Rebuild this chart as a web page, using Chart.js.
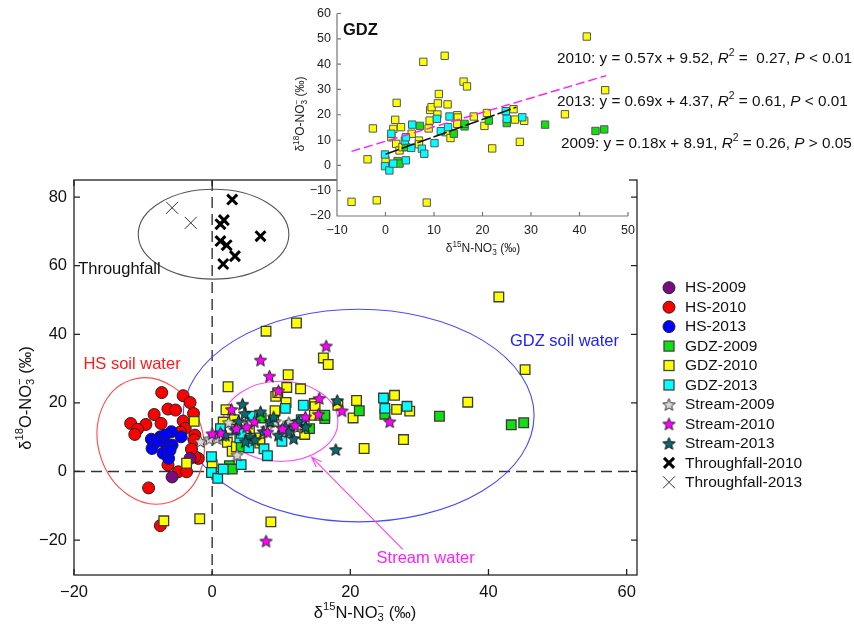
<!DOCTYPE html>
<html>
<head>
<meta charset="utf-8">
<script src="https://cdn.jsdelivr.net/npm/chart.js@4.4.0/dist/chart.umd.min.js"></script>
<style>
  html, body { margin: 0; padding: 0; background: #fff; }
  #wrap { position: relative; width: 854px; height: 633px; }
  #wrap canvas { position: absolute; left: 0; top: 0; }
</style>
</head>
<body>
<div id="wrap">
  <canvas id="main" width="854" height="633"></canvas>
  <canvas id="inset" width="854" height="633"></canvas>
</div>
<script>
// ---- data (δ15N, δ18O) ----
const hs2009 = [[-5.8, -1.6], [-3.2, 3.8]];
const hs2010 = [[-7.3, 23.0], [-4.2, 22.1], [-3.2, 20.1], [-6.4, 18.2], [-5.3, 17.9], [-2.7, 16.9],
  [-8.4, 16.6], [-7.4, 14.0], [-9.6, 13.7], [-11.8, 14.0], [-10.8, 12.3], [-11.2, 10.8], [-4.2, 14.7],
  [-3.9, 12.6], [-2.5, 10.6], [-2.6, 9.2], [-2.0, 3.8], [-6.4, 1.9], [-4.9, -0.1], [-3.7, -0.1],
  [-9.2, -4.8], [-7.5, -15.8], [-2.5, 4.3], [-4.6, 11.5], [-3.0, 6.5]];
const hs2013 = [[-5.9, 11.6], [-4.5, 10.1], [-8.8, 9.4], [-7.5, 10.1], [-6.8, 10.6], [-8.7, 6.7],
  [-6.6, 7.7], [-5.8, 7.7], [-7.1, 5.3], [-6.3, 3.8], [-6.1, 6.2], [-8.0, 8.7]];
const gdz2009 = [[7.1, 15.6], [2.5, 1.7], [2.9, 0.7], [4.2, 7.2], [14.1, 12.5], [16.3, 15.4], [16.3, 16.4],
  [21.3, 17.7], [25.0, 16.7], [32.9, 16.1], [43.3, 13.6], [45.1, 14.2]];
const gdz2010 = [[-7.0, -14.4], [-1.8, -13.8], [8.5, -14.7], [-3.7, 2.4], [-2.6, 14.6], [0.0, 2.0],
  [2.3, 24.7], [2.0, 18.0], [1.6, 14.4], [3.2, 15.1], [1.2, 11.1], [2.2, 8.5], [2.9, 5.9], [3.5, 7.2],
  [7.8, 40.9], [12.2, 43.3], [16.1, 33.1], [16.8, 31.2], [11.0, 28.2], [9.2, 21.9], [9.5, 23.0],
  [10.8, 24.5], [12.8, 24.1], [10.7, 20.1], [9.1, 17.7], [8.9, 14.6], [14.8, 19.8], [14.9, 18.9],
  [14.8, 16.4], [18.2, 19.3], [20.9, 20.7], [20.4, 15.6], [22.0, 6.7], [26.4, 22.2], [26.7, 18.1],
  [28.6, 17.6], [27.7, 9.3], [37.0, 20.2], [41.5, 50.9], [45.3, 29.7], [5.4, 12.5], [6.9, 9.8],
  [6.9, 8.3], [12.4, 13.1], [13.4, 10.8]];
const gdz2013 = [[-0.1, 4.3], [-0.1, -0.3], [0.8, -2.0], [1.6, 0.7], [1.2, 12.5], [4.0, 9.8], [4.2, 11.1],
  [4.2, 2.0], [5.3, 6.9], [5.5, 16.1], [7.5, 6.6], [8.0, 4.6], [10.1, 8.8], [10.6, 18.4], [11.4, 13.5],
  [12.9, 15.1], [13.2, 19.3], [24.8, 21.4], [25.0, 18.4], [28.2, 19.0]];
const stream2009 = [[0.7, 9.6], [2.4, 14.3], [5.3, 14.0], [9.1, 14.5], [11.1, 14.2], [12.3, 12.9],
  [7.9, 12.6], [3.6, 4.8], [-1.7, 8.7], [-0.4, 9.5], [1.5, 10.5]];
const stream2010 = [[16.5, 36.6], [7.0, 32.5], [8.3, 27.8], [9.6, 23.5], [2.8, 18.1], [6.1, 14.5],
  [15.5, 21.3], [15.4, 16.7], [13.5, 15.9], [18.8, 17.7], [1.2, 11.3], [0.0, 11.0], [25.7, 14.5],
  [7.8, -20.3], [3.5, 12.5], [5.0, 13.0], [8.0, 11.5], [10.2, 12.5], [12.0, 13.5]];
const stream2013 = [[18.1, 20.7], [17.9, 6.4], [4.4, 19.6], [4.7, 16.9], [7.0, 17.4], [8.4, 14.6],
  [10.6, 13.0], [11.8, 9.6], [13.5, 13.0], [5.5, 10.1], [3.3, 12.1], [1.9, 10.6], [7.4, 11.6],
  [9.6, 10.6], [6.2, 9.2], [3.8, 14.6], [8.9, 15.9], [12.5, 14.6], [4.8, 8.7], [11.1, 11.6]];
const throughfall2010 = [[2.9, 79.3], [1.7, 73.3], [1.2, 72.1], [1.2, 67.2], [2.1, 66.0], [3.3, 62.8],
  [1.6, 60.5], [7.0, 68.6]];
const throughfall2013 = [[-5.8, 76.9], [-3.1, 72.5]];

const mainXTicks = [-20, 0, 20, 40, 60];
const mainYTicks = [-20, 0, 20, 40, 60, 80];
const insetXTicks = [-10, 0, 10, 20, 30, 40, 50];
const insetYTicks = [-20, -10, 0, 10, 20, 30, 40, 50, 60];

// GDZ regressions shown in the inset (2010, 2013)
const fitSlope = [0.57, 0.69];
const fitIntercept = [9.52, 4.37];
const fitFrom = [-7, 0];
const fitTo = [45.5, 27];

const FONT = '"Liberation Sans", Arial, sans-serif';
const pts = a => a.map(p => ({ x: p[0], y: p[1] }));
const fmt = v => (v < 0 ? '\u2212' + Math.abs(v) : String(v));

function starImage(fill, stroke, size) {
  const c = document.createElement('canvas');
  c.width = c.height = size;
  const g = c.getContext('2d');
  const cx = size / 2, cy = size / 2 + 0.6, R = size / 2 - 1, r = R * 0.45;
  g.beginPath();
  for (let i = 0; i < 10; i++) {
    const a = -Math.PI / 2 + i * Math.PI / 5, rr = i % 2 ? r : R;
    g.lineTo(cx + rr * Math.cos(a), cy + rr * Math.sin(a));
  }
  g.closePath();
  g.fillStyle = fill; g.fill();
  g.lineWidth = 1; g.strokeStyle = stroke; g.stroke();
  return c;
}
const starGrey = starImage('#d6d6d6', '#333', 15);
const starMag = starImage('#ff00ff', '#222', 15);
const starTeal = starImage('#0c6a6e', '#111', 15);

// rich text: parts = [[text, style]], style '', 'i', 'b', 'sup', 'sub', 'sup0' (stacked on prev sub)
function richText(ctx, parts, x, y, size, align, color) {
  const fontOf = s => (s === 'i' ? 'italic ' : s === 'b' ? 'bold ' : '') +
    ((s === 'sup' || s === 'sub' || s === 'sup0') ? size * 0.68 : size) + 'px ' + FONT;
  let w = 0, prevW = 0;
  const widths = parts.map(([t, s]) => {
    ctx.font = fontOf(s);
    const m = ctx.measureText(t).width;
    if (s === 'sup0') { const add = Math.max(0, m - prevW); w += add; return add; }
    w += m; prevW = m; return m;
  });
  let cx = align === 'center' ? x - w / 2 : align === 'right' ? x - w : x;
  ctx.fillStyle = color;
  ctx.textAlign = 'left';
  ctx.textBaseline = 'middle';
  let lastX = cx;
  parts.forEach(([t, s], i) => {
    ctx.font = fontOf(s);
    let dy = 0;
    if (s === 'sup' || s === 'sup0') dy = -size * 0.36;
    if (s === 'sub') dy = size * 0.3;
    const px = s === 'sup0' ? lastX : cx;
    ctx.fillText(t, px, y + dy);
    if (s !== 'sup0') lastX = cx;
    cx += widths[i];
  });
}

// ---- main chart ----
const ellipses = [
  { cx: 0.2, cy: 69.2, rx: 10.9, ry: 13.1, rot: 0, color: '#555555' },
  { cx: -8.9, cy: 8.9, rx: 7.6, ry: 18.7, rot: -0.3, color: '#ff4a4a' },
  { cx: 21.2, cy: 16.3, rx: 25.4, ry: 31.0, rot: 0, color: '#4a4aff' },
  { cx: 9.9, cy: 14.6, rx: 8.3, ry: 11.7, rot: 0, color: '#ff4aff' }
];
const notes = [
  { text: 'Throughfall', x: -19.4, y: 59.0, align: 'left', color: '#111' },
  { text: 'HS soil water', x: -11.6, y: 31.2, align: 'center', color: '#ff1a1a' },
  { text: 'GDZ soil water', x: 51.0, y: 37.8, align: 'center', color: '#2020ff' },
  { text: 'Stream water', x: 30.9, y: -25.5, align: 'center', color: '#ff20ff' }
];
const arrow = { x1: 27.6, y1: -22.7, x2: 14.4, y2: 4.2, color: '#ff40ff' };

const legendItems = [
  { label: 'HS-2009', kind: 'circle', fill: '#7a0a80' },
  { label: 'HS-2010', kind: 'circle', fill: '#ff0000' },
  { label: 'HS-2013', kind: 'circle', fill: '#0000ff' },
  { label: 'GDZ-2009', kind: 'rect', fill: '#10e010' },
  { label: 'GDZ-2010', kind: 'rect', fill: '#ffff00' },
  { label: 'GDZ-2013', kind: 'rect', fill: '#00ffff' },
  { label: 'Stream-2009', kind: 'img', img: starGrey },
  { label: 'Stream-2010', kind: 'img', img: starMag },
  { label: 'Stream-2013', kind: 'img', img: starTeal },
  { label: 'Throughfall-2010', kind: 'xbold' },
  { label: 'Throughfall-2013', kind: 'xthin' }
];

const mainDeco = {
  id: 'mainDeco',
  beforeDatasetsDraw(chart) {
    const { ctx, chartArea: a, scales: { x, y } } = chart;
    ctx.save();
    ctx.strokeStyle = '#333';
    ctx.lineWidth = 1.4;
    ctx.setLineDash([11, 6]);
    const x0 = x.getPixelForValue(0), y0 = y.getPixelForValue(0);
    ctx.beginPath(); ctx.moveTo(x0, a.top); ctx.lineTo(x0, a.bottom); ctx.stroke();
    ctx.beginPath(); ctx.moveTo(a.left, y0); ctx.lineTo(a.right, y0); ctx.stroke();
    ctx.setLineDash([]);
    const ux = Math.abs(x.getPixelForValue(1) - x0), uy = Math.abs(y.getPixelForValue(1) - y0);
    ellipses.forEach(e => {
      ctx.beginPath();
      ctx.ellipse(x.getPixelForValue(e.cx), y.getPixelForValue(e.cy), e.rx * ux, e.ry * uy, e.rot, 0, Math.PI * 2);
      ctx.strokeStyle = e.color;
      ctx.lineWidth = 1.1;
      ctx.stroke();
    });
    ctx.restore();
  },
  afterDraw(chart) {
    const { ctx, chartArea: a, scales: { x, y } } = chart;
    ctx.save();
    // frame + inward ticks
    ctx.strokeStyle = '#222';
    ctx.lineWidth = 1.3;
    ctx.strokeRect(a.left, a.top, a.right - a.left, a.bottom - a.top);
    ctx.beginPath();
    mainXTicks.forEach(v => {
      const p = x.getPixelForValue(v);
      ctx.moveTo(p, a.bottom); ctx.lineTo(p, a.bottom - 6);
      ctx.moveTo(p, a.top); ctx.lineTo(p, a.top + 6);
    });
    mainYTicks.forEach(v => {
      const p = y.getPixelForValue(v);
      ctx.moveTo(a.left, p); ctx.lineTo(a.left + 6, p);
      ctx.moveTo(a.right, p); ctx.lineTo(a.right - 6, p);
    });
    ctx.stroke();
    // notes
    notes.forEach(n => {
      ctx.font = '16.5px ' + FONT;
      ctx.fillStyle = n.color;
      ctx.textAlign = n.align;
      ctx.textBaseline = 'middle';
      ctx.fillText(n.text, x.getPixelForValue(n.x), y.getPixelForValue(n.y));
    });
    // arrow
    const ax1 = x.getPixelForValue(arrow.x1), ay1 = y.getPixelForValue(arrow.y1);
    const ax2 = x.getPixelForValue(arrow.x2), ay2 = y.getPixelForValue(arrow.y2);
    const ang = Math.atan2(ay2 - ay1, ax2 - ax1);
    ctx.strokeStyle = arrow.color;
    ctx.lineWidth = 1.1;
    ctx.beginPath();
    ctx.moveTo(ax1, ay1); ctx.lineTo(ax2, ay2);
    ctx.moveTo(ax2 - 11 * Math.cos(ang - 0.35), ay2 - 11 * Math.sin(ang - 0.35));
    ctx.lineTo(ax2, ay2);
    ctx.lineTo(ax2 - 11 * Math.cos(ang + 0.35), ay2 - 11 * Math.sin(ang + 0.35));
    ctx.stroke();
    // axis titles
    const tx = [['δ', ''], ['15', 'sup'], ['N-NO', ''], ['3', 'sub'], ['\u2212', 'sup0'], [' (‰)', '']];
    richText(ctx, tx, 365, 613, 16.5, 'center', '#111');
    ctx.save();
    ctx.translate(26, 398);
    ctx.rotate(-Math.PI / 2);
    const ty = [['δ', ''], ['18', 'sup'], ['O-NO', ''], ['3', 'sub'], ['\u2212', 'sup0'], [' (‰)', '']];
    richText(ctx, ty, 0, 0, 16.5, 'center', '#111');
    ctx.restore();
    // legend
    legendItems.forEach((it, i) => {
      const ly = 287.7 + i * 19.46, lx = 669;
      ctx.lineWidth = 1;
      ctx.strokeStyle = '#222';
      if (it.kind === 'circle') {
        ctx.beginPath(); ctx.arc(lx, ly, 6, 0, Math.PI * 2);
        ctx.fillStyle = it.fill; ctx.fill(); ctx.stroke();
      } else if (it.kind === 'rect') {
        ctx.fillStyle = it.fill;
        ctx.fillRect(lx - 5, ly - 5, 10, 10);
        ctx.strokeStyle = '#444'; ctx.lineWidth = 1.3;
        ctx.strokeRect(lx - 5, ly - 5, 10, 10);
      } else if (it.kind === 'img') {
        ctx.drawImage(it.img, lx - it.img.width / 2, ly - it.img.height / 2);
      } else {
        const bold = it.kind === 'xbold';
        const s = bold ? 5 : 6;
        ctx.strokeStyle = bold ? '#000' : '#333';
        ctx.lineWidth = bold ? 3 : 1;
        ctx.beginPath();
        ctx.moveTo(lx - s, ly - s); ctx.lineTo(lx + s, ly + s);
        ctx.moveTo(lx + s, ly - s); ctx.lineTo(lx - s, ly + s);
        ctx.stroke();
      }
      ctx.font = '15.5px ' + FONT;
      ctx.fillStyle = '#111';
      ctx.textAlign = 'left';
      ctx.textBaseline = 'middle';
      ctx.fillText(it.label, 685, ly + 0.5);
    });
    ctx.restore();
  }
};

const circ = (label, data, color) => ({
  label, data: pts(data), order: 3, pointStyle: 'circle', pointRadius: 6,
  backgroundColor: color, borderColor: '#222', borderWidth: 1
});
const sq = (label, data, color, r, order) => ({
  label, data: pts(data), order, pointStyle: 'rect', pointRadius: r,
  backgroundColor: color, borderColor: '#3a3a3a', borderWidth: 1.3
});
const star = (label, data, img) => ({
  label, data: pts(data), order: 1, pointStyle: img, pointRadius: 6
});

new Chart(document.getElementById('main'), {
  type: 'scatter',
  data: {
    datasets: [
      { label: 'Throughfall-2010', data: pts(throughfall2010), order: 0, pointStyle: 'crossRot',
        pointRadius: 7, borderColor: '#000', borderWidth: 3 },
      { label: 'Throughfall-2013', data: pts(throughfall2013), order: 0, pointStyle: 'crossRot',
        pointRadius: 8.5, borderColor: '#333', borderWidth: 1 },
      star('Stream-2010', stream2010, starMag),
      star('Stream-2013', stream2013, starTeal),
      star('Stream-2009', stream2009, starGrey),
      sq('GDZ-2013', gdz2013, '#00ffff', 6.8, 2),
      sq('GDZ-2009', gdz2009, '#10e010', 6.8, 2),
      sq('GDZ-2010', gdz2010, '#ffff00', 6.8, 2),
      circ('HS-2009', hs2009, '#7a0a80'),
      circ('HS-2013', hs2013, '#0000ff'),
      circ('HS-2010', hs2010, '#ff0000')
    ]
  },
  options: {
    responsive: false,
    animation: false,
    devicePixelRatio: 1,
    layout: { padding: { left: 0, top: 180, right: 217, bottom: 0 } },
    plugins: { legend: { display: false }, tooltip: { enabled: false } },
    scales: {
      x: {
        type: 'linear', min: -20, max: 61.5,
        afterBuildTicks: s => { s.ticks = mainXTicks.map(v => ({ value: v })); },
        afterFit: s => { s.height = 58; },
        grid: { display: false, drawTicks: false },
        border: { display: false },
        ticks: { padding: 8, color: '#111', font: { family: FONT, size: 16.5 }, callback: fmt, maxRotation: 0 }
      },
      y: {
        type: 'linear', min: -30.2, max: 85,
        afterBuildTicks: s => { s.ticks = mainYTicks.map(v => ({ value: v })); },
        afterFit: s => { s.width = 74; },
        grid: { display: false, drawTicks: false },
        border: { display: false },
        ticks: { padding: 7, color: '#111', font: { family: FONT, size: 16.5 }, callback: fmt }
      }
    }
  },
  plugins: [mainDeco]
});

// ---- inset chart ----
const equations = [
  { y: 59, parts: [['2010: y = 0.57x + 9.52, ', ''], ['R', 'i'], ['2', 'sup'], [' =  0.27, ', ''], ['P', 'i'], [' < 0.01', '']] },
  { y: 101.5, parts: [['2013: y = 0.69x + 4.37, ', ''], ['R', 'i'], ['2', 'sup'], [' = 0.61, ', ''], ['P', 'i'], [' < 0.01', '']] },
  { y: 143.5, parts: [['2009: y = 0.18x + 8.91, ', ''], ['R', 'i'], ['2', 'sup'], [' = 0.26, ', ''], ['P', 'i'], [' > 0.05', '']] }
];
const eqX = [557, 557, 561];

const insetDeco = {
  id: 'insetDeco',
  beforeDatasetsDraw(chart) {
    const { ctx, chartArea: a } = chart;
    ctx.save();
    ctx.fillStyle = '#fff';
    ctx.fillRect(a.left, a.top, a.right - a.left + 1, a.bottom - a.top);
    ctx.restore();
  },
  afterDraw(chart) {
    const { ctx, chartArea: a, scales: { x, y } } = chart;
    ctx.save();
    ctx.strokeStyle = '#777';
    ctx.lineWidth = 1.2;
    ctx.beginPath();
    ctx.moveTo(a.left, a.top); ctx.lineTo(a.left, a.bottom); ctx.lineTo(a.right, a.bottom);
    insetXTicks.forEach(v => { const p = x.getPixelForValue(v); ctx.moveTo(p, a.bottom); ctx.lineTo(p, a.bottom - 4); });
    insetYTicks.forEach(v => { const p = y.getPixelForValue(v); ctx.moveTo(a.left, p); ctx.lineTo(a.left + 4, p); });
    ctx.stroke();
    ctx.font = 'bold 16.5px ' + FONT;
    ctx.fillStyle = '#111';
    ctx.textAlign = 'left';
    ctx.textBaseline = 'middle';
    ctx.fillText('GDZ', 343, 30);
    equations.forEach((e, i) => richText(ctx, e.parts, eqX[i], e.y, 15.3, 'left', '#111'));
    richText(ctx, [['δ', ''], ['15', 'sup'], ['N-NO', ''], ['3', 'sub'], ['\u2212', 'sup0'], [' (‰)', '']],
      483, 249, 12, 'center', '#222');
    ctx.translate(301, 114);
    ctx.rotate(-Math.PI / 2);
    richText(ctx, [['δ', ''], ['18', 'sup'], ['O-NO', ''], ['3', 'sub'], ['\u2212', 'sup0'], [' (‰)', '']],
      0, 0, 12, 'center', '#222');
    ctx.restore();
  }
};

const fitLine = (i, color, dash) => ({
  type: 'line', order: 0,
  data: [{ x: fitFrom[i], y: fitSlope[i] * fitFrom[i] + fitIntercept[i] },
         { x: fitTo[i], y: fitSlope[i] * fitTo[i] + fitIntercept[i] }],
  borderColor: color, borderWidth: 1.5, borderDash: dash, pointRadius: 0, fill: false
});

const insetSq = (label, data, color) =>
  Object.assign(sq(label, data, color, 5.2, 1), { borderWidth: 1, borderColor: '#555' });

new Chart(document.getElementById('inset'), {
  type: 'scatter',
  data: {
    datasets: [
      fitLine(0, '#ff20ff', [9, 4]),
      fitLine(1, '#111', [14, 3]),
      insetSq('GDZ-2013', gdz2013, '#00ffff'),
      insetSq('GDZ-2009', gdz2009, '#10e010'),
      insetSq('GDZ-2010', gdz2010, '#ffff00')
    ]
  },
  options: {
    responsive: false,
    animation: false,
    devicePixelRatio: 1,
    layout: { padding: { left: 297, top: 12.6, right: 226, bottom: 377 } },
    plugins: { legend: { display: false }, tooltip: { enabled: false } },
    scales: {
      x: {
        type: 'linear', min: -10, max: 50,
        afterBuildTicks: s => { s.ticks = insetXTicks.map(v => ({ value: v })); },
        afterFit: s => { s.height = 40; },
        grid: { display: false, drawTicks: false },
        border: { display: false },
        ticks: { padding: 7, color: '#222', font: { family: FONT, size: 12.5 }, callback: fmt, maxRotation: 0 }
      },
      y: {
        type: 'linear', min: -20, max: 60,
        afterBuildTicks: s => { s.ticks = insetYTicks.map(v => ({ value: v })); },
        afterFit: s => { s.width = 40; },
        grid: { display: false, drawTicks: false },
        border: { display: false },
        ticks: { padding: 6, color: '#222', font: { family: FONT, size: 12.5 }, callback: fmt }
      }
    }
  },
  plugins: [insetDeco]
});
</script>
</body>
</html>
